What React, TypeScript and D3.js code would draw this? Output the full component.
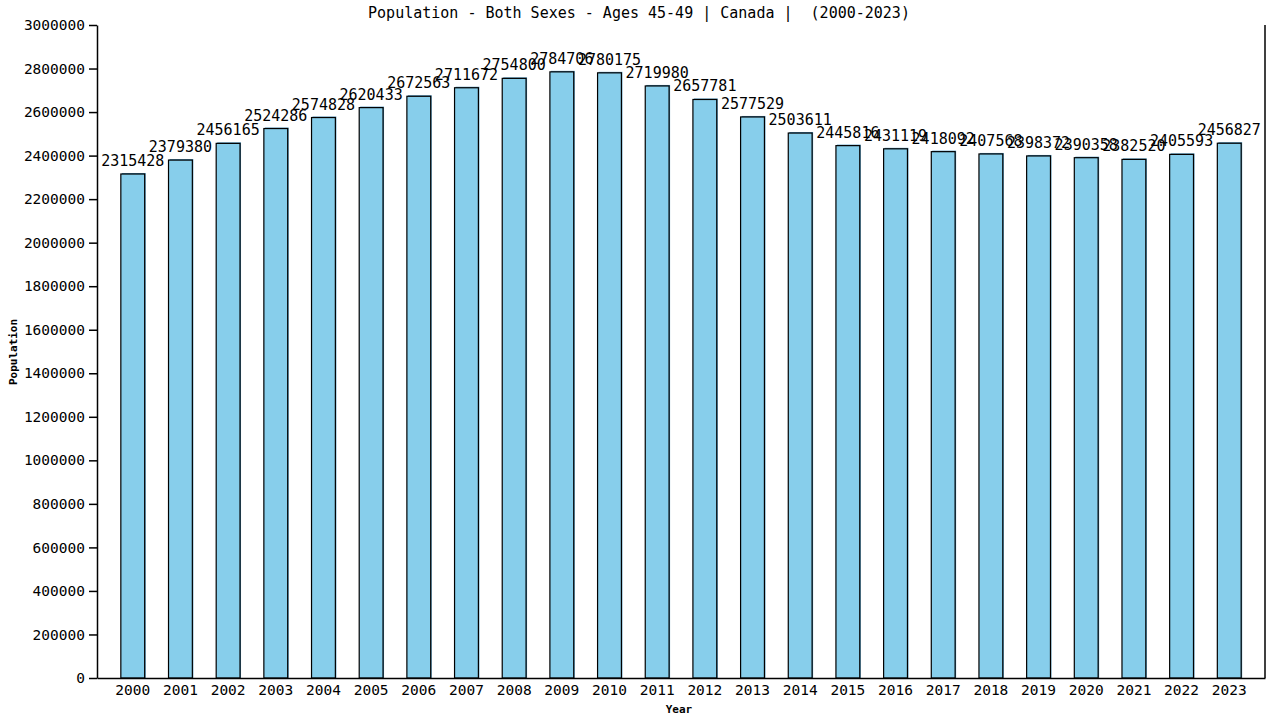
import { useEffect, useRef } from 'react';
import * as d3 from 'd3';

const years = [
  '2000', '2001', '2002', '2003', '2004', '2005', '2006', '2007', '2008', '2009', '2010', '2011',
  '2012', '2013', '2014', '2015', '2016', '2017', '2018', '2019', '2020', '2021', '2022', '2023',
];
const population = [
  2315428, 2379380, 2456165, 2524286, 2574828, 2620433, 2672563, 2711672, 2754800, 2784706, 2780175, 2719980,
  2657781, 2577529, 2503611, 2445816, 2431119, 2418092, 2407568, 2398372, 2390358, 2382520, 2405593, 2456827,
];
const yTicks = d3.range(0, 3000001, 200000);
const title = 'Population - Both Sexes - Ages 45-49 | Canada |  (2000-2023)';

const width = 1280;
const height = 720;
const marginLeft = 97;
const marginRight = 15;
const marginTop = 25;
const marginBottom = 42;
const mono = '"DejaVu Sans Mono", "Liberation Mono", monospace';

const App = (): JSX.Element => {
  const svgRef = useRef<SVGSVGElement>(null);

  useEffect(() => {
    if (svgRef.current) {
      svgRef.current.innerHTML = '';
    }
    const svg = d3.select(svgRef.current);

    const x = d3.scaleBand(years, [marginLeft, width - marginRight]).padding(0.5);
    const y = d3.scaleLinear([0, 3000000], [height - marginBottom, marginTop]);

    // title
    svg
      .append('text')
      .attr('x', 639)
      .attr('y', 18)
      .attr('text-anchor', 'middle')
      .attr('font-family', mono)
      .attr('font-size', 15)
      .style('white-space', 'pre')
      .text(title);

    // bars: steelblue shadow, then skyblue with black outline
    const bars = svg.append('g');
    bars
      .selectAll('rect.shadow')
      .data(population)
      .join('rect')
      .attr('class', 'shadow')
      .attr('x', (_, i) => (x(years[i]) as number) + 1)
      .attr('y', (d) => y(d) - 1)
      .attr('width', x.bandwidth())
      .attr('height', (d) => y(0) - y(d) + 1)
      .attr('fill', '#4a90b8');
    bars
      .selectAll('rect.bar')
      .data(population)
      .join('rect')
      .attr('class', 'bar')
      .attr('x', (_, i) => x(years[i]) as number)
      .attr('y', (d) => y(d))
      .attr('width', x.bandwidth())
      .attr('height', (d) => y(0) - y(d))
      .attr('fill', '#87ceeb')
      .attr('stroke', '#000')
      .attr('stroke-width', 1.2);

    // value labels
    svg
      .append('g')
      .selectAll('text')
      .data(population)
      .join('text')
      .attr('x', (_, i) => (x(years[i]) as number) + x.bandwidth() / 2)
      .attr('y', (d) => y(d) - 8)
      .attr('text-anchor', 'middle')
      .attr('font-family', mono)
      .attr('font-size', 15)
      .text((d) => String(d));

    // y axis
    svg
      .append('g')
      .attr('transform', `translate(${marginLeft},0)`)
      .call(d3.axisLeft(y).tickValues(yTicks).tickFormat((d) => String(d)).tickSize(8).tickSizeOuter(0))
      .call((g) => g.select('.domain').attr('stroke-width', 1.5))
      .call((g) => g.selectAll('.tick line').attr('stroke-width', 1.5))
      .call((g) =>
        g.selectAll('.tick text').attr('font-family', mono).attr('font-size', 14.5).attr('fill', '#000').attr('x', -12)
      );

    // x axis
    svg
      .append('g')
      .attr('transform', `translate(0,${height - marginBottom})`)
      .call(d3.axisBottom(x).tickSize(0).tickSizeOuter(0).tickPadding(5))
      .call((g) => g.select('.domain').attr('stroke-width', 1.5))
      .call((g) =>
        g.selectAll('.tick text').attr('font-family', mono).attr('font-size', 14.5).attr('fill', '#000').attr('dy', '0.8em')
      );

    // right border
    svg
      .append('line')
      .attr('x1', width - marginRight)
      .attr('x2', width - marginRight)
      .attr('y1', marginTop)
      .attr('y2', height - marginBottom)
      .attr('stroke', '#000')
      .attr('stroke-width', 1.5);

    // axis titles
    svg
      .append('text')
      .attr('x', 679)
      .attr('y', 713)
      .attr('text-anchor', 'middle')
      .attr('font-family', mono)
      .attr('font-weight', 'bold')
      .attr('font-size', 11)
      .text('Year');
    svg
      .append('text')
      .attr('transform', 'translate(17,352) rotate(-90)')
      .attr('text-anchor', 'middle')
      .attr('font-family', mono)
      .attr('font-weight', 'bold')
      .attr('font-size', 11)
      .text('Population');
  }, []);

  return (
    <svg
      ref={svgRef}
      width={width}
      height={height}
      viewBox={`0 0 ${width} ${height}`}
      style={{ position: 'absolute', left: 0, top: 0, background: '#fff' }}
    />
  );
};

export default App;
